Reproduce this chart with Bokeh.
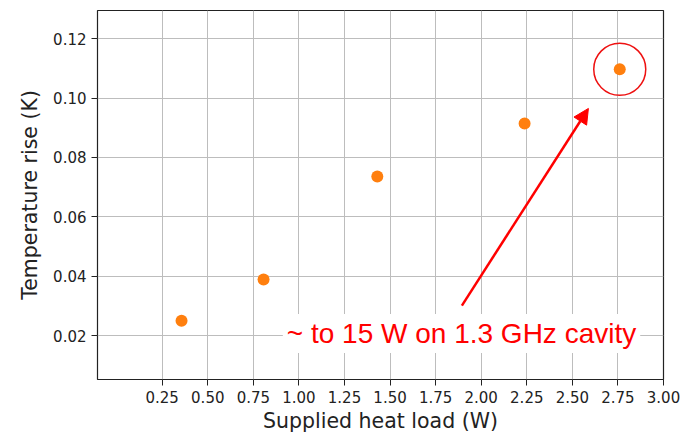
from bokeh.plotting import figure
from bokeh.models import Range1d, FixedTicker, NumeralTickFormatter, Arrow, NormalHead, Label
from bokeh.embed import file_html
from bokeh.resources import INLINE

# Data
heat_load = [0.356, 0.806, 1.43, 2.238, 2.76]
temp_rise = [0.025, 0.0389, 0.0736, 0.0914, 0.1097]
x_ticks = [0.25, 0.50, 0.75, 1.00, 1.25, 1.50, 1.75, 2.00, 2.25, 2.50, 2.75, 3.00]
y_ticks = [0.02, 0.04, 0.06, 0.08, 0.10, 0.12]
annotation_text = "~ to 15 W on 1.3 GHz cavity"
arrow_start = (1.894, 0.0301)
arrow_end = (2.588, 0.0965)
label_pos = (1.892, 0.0207)

p = figure(width=682, height=436, output_backend="svg", toolbar_location=None,
           x_range=Range1d(-0.105, 3.0), y_range=Range1d(0.0052, 0.1295),
           min_border_left=97, min_border_right=19, min_border_top=10, min_border_bottom=57)

p.background_fill_color = "white"
p.border_fill_color = "white"
p.outline_line_color = "#222222"
p.outline_line_width = 1.2

p.xaxis.ticker = FixedTicker(ticks=x_ticks)
p.yaxis.ticker = FixedTicker(ticks=y_ticks)
p.xaxis.formatter = NumeralTickFormatter(format="0.00")
p.yaxis.formatter = NumeralTickFormatter(format="0.00")

for ax in (p.xaxis, p.yaxis):
    ax.axis_line_color = None
    ax.major_tick_line_color = "#222222"
    ax.major_tick_out = 6
    ax.major_tick_in = 0
    ax.minor_tick_line_color = None
    ax.major_label_text_font = "DejaVu Sans"
    ax.major_label_text_font_size = "15px"
    ax.major_label_text_color = "#222222"
    ax.axis_label_text_font = "DejaVu Sans"
    ax.axis_label_text_font_size = "20.5px"
    ax.axis_label_text_font_style = "normal"
    ax.axis_label_text_color = "#222222"
    ax.major_label_standoff = 5

p.xaxis.axis_label = "Supplied heat load (W)"
p.yaxis.axis_label = "Temperature rise (K)"
p.xaxis.axis_label_standoff = 3
p.yaxis.axis_label_standoff = 8

p.grid.grid_line_color = "#bdbdbd"
p.grid.grid_line_width = 1

p.scatter(heat_load, temp_rise, size=12, color="#ff7f0e", line_color=None)

# highlight circle around the last point
p.circle([heat_load[-1]], [temp_rise[-1]], radius=26, radius_units="screen",
         fill_color=None, line_color="#ee1111", line_width=1.5)

p.add_layout(Arrow(end=NormalHead(size=15, fill_color="#ff0000", line_color="#ff0000"),
                   x_start=arrow_start[0], y_start=arrow_start[1],
                   x_end=arrow_end[0], y_end=arrow_end[1],
                   line_color="#ff0000", line_width=2.5))

p.add_layout(Label(x=label_pos[0], y=label_pos[1], text=annotation_text,
                   text_align="center", text_baseline="middle",
                   text_font="Liberation Sans", text_font_size="28px", text_color="#ff0000",
                   background_fill_color="white", padding=4))

# partially visible legend box at the right edge
p.add_layout(Label(x=3.044, y=0.1216, text="      ", text_align="left", text_baseline="middle",
                   text_font_size="16px", border_line_color="#d8d8d8", border_line_width=1.5,
                   background_fill_color="white", padding=6, border_radius=4))

open("out.html", "w").write(file_html(p, INLINE))
